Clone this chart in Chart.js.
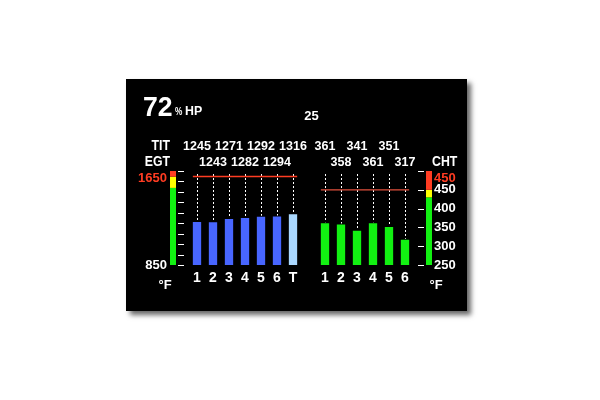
<!DOCTYPE html>
<html><head><meta charset="utf-8">
<script src="https://cdn.jsdelivr.net/npm/chart.js@4.4.0/dist/chart.umd.min.js"></script>
<style>html,body{margin:0;padding:0;background:#fff;}#wrap{width:600px;height:400px;position:relative;}</style>
</head><body><div id="wrap"><canvas id="c" width="600" height="400" style="width:600px;height:400px"></canvas></div>
<script>
// ---- data ----
const categories = ['1','2','3','4','5','6','T','','1','2','3','4','5','6'];
const egtValues = [1245, 1243, 1271, 1282, 1292, 1294];
const titValue = 1316;
const chtValues = [361, 358, 341, 361, 351, 317];
const percentHP = 72;
const topValue = 25;
const egtRange = [850, 1712];
const chtRange = [250, 500];
const egtTickCount = 10;
const chtTicks = [250, 300, 350, 400, 450, 500];
const chtTickLabels = [250, 300, 350, 400, 450];
const egtLabelTop = '1650';
const egtLabelBottom = '850';
const chtLabelTop = '450';
const egtRedline = 1662;
const chtRedline = 450;
const egtBands = [850, 1557, 1660, 1712];   // green / yellow / red
const chtBands = [250, 430, 450, 500];

// ---- styles ----
const NF = '"Liberation Sans",Arial,sans-serif';
const BLUE = '#4866ff', LBLUE = '#aad8ff', GREEN = '#12f012', YEL = '#ffff00', RED = '#ff3c22';

const egtData = [...egtValues, titValue, ...new Array(7).fill(null)];
const chtData = [...new Array(8).fill(null), ...chtValues];
const egtColors = egtData.map((v, i) => i === 6 ? LBLUE : BLUE);

function txt(ctx, s, x, y, sx) {
  ctx.save(); ctx.translate(x, y); ctx.scale(sx || 1, 1); ctx.fillText(s, 0, 0); ctx.restore();
}

const deco = {
  id: 'deco',
  beforeDraw(chart) {
    const ctx = chart.ctx;
    ctx.save();
    ctx.fillStyle = '#fff'; ctx.fillRect(0, 0, chart.width, chart.height);
    ctx.shadowColor = 'rgba(0,0,0,0.6)'; ctx.shadowBlur = 5; ctx.shadowOffsetX = 4; ctx.shadowOffsetY = 4;
    ctx.fillStyle = '#000'; ctx.fillRect(126, 79, 341, 232);
    ctx.restore();
  },
  beforeDatasetsDraw(chart) {
    const ctx = chart.ctx, x = chart.scales.x, ca = chart.chartArea;
    const egt = chart.scales.egt, cht = chart.scales.cht;
    ctx.save();
    ctx.strokeStyle = '#fff'; ctx.lineWidth = 1; ctx.setLineDash([2, 2]);
    const dots = (data, sc) => data.forEach((v, i) => {
      if (v == null) return;
      const px = Math.round(x.getPixelForValue(i)) + 0.5;
      ctx.beginPath(); ctx.moveTo(px, ca.top + 3); ctx.lineTo(px, sc.getPixelForValue(v) - 1); ctx.stroke();
    });
    dots(egtData, egt); dots(chtData, cht);
    ctx.setLineDash([]);
    const bw = chart.getDatasetMeta(0).data[0].width / 2;
    ctx.strokeStyle = RED; ctx.lineWidth = 1.6;
    let y = egt.getPixelForValue(egtRedline);
    ctx.beginPath(); ctx.moveTo(x.getPixelForValue(0) - bw, y); ctx.lineTo(x.getPixelForValue(6) + bw, y); ctx.stroke();
    ctx.strokeStyle = '#e0503c'; ctx.lineWidth = 1.2;
    y = cht.getPixelForValue(chtRedline);
    ctx.beginPath(); ctx.moveTo(x.getPixelForValue(8) - bw, y); ctx.lineTo(x.getPixelForValue(13) + bw, y); ctx.stroke();
    ctx.restore();
  },
  afterDatasetsDraw(chart) {
    const ctx = chart.ctx, x = chart.scales.x, ca = chart.chartArea;
    const egt = chart.scales.egt, cht = chart.scales.cht;
    ctx.save();
    const band = (sc, b, x0) => {
      const cols = [GREEN, YEL, RED];
      for (let k = 0; k < 3; k++) {
        const y0 = sc.getPixelForValue(b[k + 1]), y1 = sc.getPixelForValue(b[k]);
        ctx.fillStyle = cols[k]; ctx.fillRect(x0, y0, 6, y1 - y0);
      }
    };
    band(egt, egtBands, ca.left - 19);
    band(cht, chtBands, ca.right + 13);
    ctx.strokeStyle = '#fff'; ctx.lineWidth = 1;
    for (let k = 0; k < egtTickCount; k++) {
      const v = egtRange[0] + (egtRange[1] - egtRange[0]) * k / (egtTickCount - 1);
      const y = Math.round(egt.getPixelForValue(v)) + 0.5;
      ctx.beginPath(); ctx.moveTo(ca.left - 11, y); ctx.lineTo(ca.left - 5, y); ctx.stroke();
    }
    chtTicks.forEach(v => {
      const y = Math.round(cht.getPixelForValue(v)) + 0.5;
      ctx.beginPath(); ctx.moveTo(ca.right + 5, y); ctx.lineTo(ca.right + 11, y); ctx.stroke();
    });
    ctx.fillStyle = '#fff'; ctx.textBaseline = 'alphabetic';
    ctx.font = 'bold 28px ' + NF; ctx.textAlign = 'left';
    txt(ctx, String(percentHP), 143, 116, 0.95);
    ctx.font = 'bold 11px ' + NF; txt(ctx, '%', 175, 115, 0.75);
    ctx.font = 'bold 13px ' + NF; txt(ctx, 'HP', 185, 115, 0.95);
    ctx.textAlign = 'center'; ctx.font = 'bold 13px ' + NF;
    txt(ctx, String(topValue), 311.5, 120);
    ctx.textAlign = 'right'; ctx.font = 'bold 14px ' + NF;
    txt(ctx, 'TIT', 170, 150, 0.88);
    txt(ctx, 'EGT', 170, 165.5, 0.88);
    ctx.textAlign = 'left'; txt(ctx, 'CHT', 432, 165.5, 0.88);
    ctx.font = 'bold 12.5px ' + NF; ctx.textAlign = 'center';
    const vals = (data, off) => data.forEach((v, i) => {
      if (v == null) return;
      const row = (i - off) % 2;
      txt(ctx, String(v), x.getPixelForValue(i), row === 0 ? 150 : 165.5);
    });
    vals(egtData, 0); vals(chtData, 8);
    ctx.font = 'bold 13px ' + NF;
    ctx.textAlign = 'right'; ctx.textBaseline = 'middle';
    ctx.fillStyle = RED; txt(ctx, egtLabelTop, ca.left - 22, ca.top + 7.5);
    ctx.fillStyle = '#fff'; txt(ctx, egtLabelBottom, ca.left - 22, egt.getPixelForValue(egtRange[0]));
    ctx.textAlign = 'left';
    ctx.fillStyle = RED; txt(ctx, chtLabelTop, ca.right + 21, ca.top + 7.5);
    ctx.fillStyle = '#fff';
    chtTickLabels.forEach(v => txt(ctx, String(v), ca.right + 21, cht.getPixelForValue(v)));
    ctx.textAlign = 'center';
    txt(ctx, '°F', ca.left - 24, 285);
    txt(ctx, '°F', ca.right + 23, 285);
    ctx.restore();
  }
};

new Chart(document.getElementById('c'), {
  type: 'bar',
  data: {
    labels: categories,
    datasets: [
      { label: 'EGT', data: egtData, yAxisID: 'egt', backgroundColor: egtColors, grouped: false,
        barPercentage: 0.52, categoryPercentage: 1 },
      { label: 'CHT', data: chtData, yAxisID: 'cht', backgroundColor: GREEN, grouped: false,
        barPercentage: 0.52, categoryPercentage: 1 }
    ]
  },
  options: {
    responsive: false, animation: false, devicePixelRatio: 1,
    layout: { padding: { left: 189, right: 187, top: 171, bottom: 105 } },
    plugins: { legend: { display: false }, tooltip: { enabled: false } },
    scales: {
      x: { grid: { display: false }, border: { display: false },
           ticks: { color: '#fff', font: { family: NF, size: 14, weight: 'bold' }, padding: -3, autoSkip: false, maxRotation: 0 },
           afterFit: s => { s.height = 30; } },
      egt: { type: 'linear', display: false, min: egtRange[0], max: egtRange[1] },
      cht: { type: 'linear', display: false, min: chtRange[0], max: chtRange[1] }
    }
  },
  plugins: [deco]
});
</script>
</body></html>
